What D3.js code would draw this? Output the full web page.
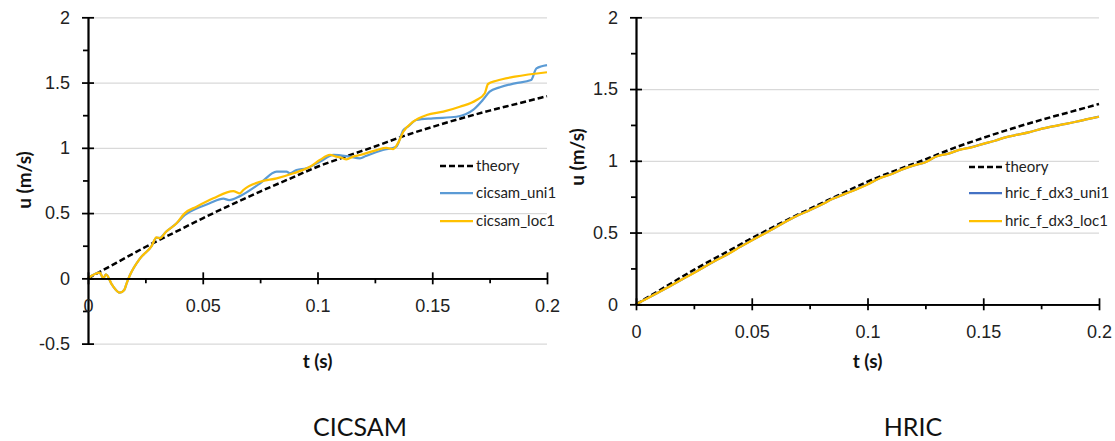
<!DOCTYPE html>
<html>
<head>
<meta charset="utf-8">
<script src="https://cdn.jsdelivr.net/npm/d3@7"></script>
<style>
  body { margin: 0; background: #fff; }
  svg { font-family: Lato, "Open Sans", sans-serif; }
</style>
</head>
<body>
<svg id="chart" width="1115" height="441"></svg>
<script>
// ---------- data ----------
const tTheory = [0, 0.0125, 0.025, 0.0375, 0.05, 0.0625, 0.075, 0.0875, 0.1, 0.1125, 0.125, 0.1375, 0.15, 0.1625, 0.175, 0.1875, 0.2];
const uTheory = [0, 0.12, 0.24, 0.35, 0.46, 0.565, 0.665, 0.76, 0.855, 0.935, 1.01, 1.09, 1.16, 1.225, 1.285, 1.34, 1.396];

const tCicUni = [0, 0.005, 0.0067, 0.0078, 0.0105, 0.0139, 0.0158, 0.0168, 0.0183, 0.0227, 0.0277, 0.0298, 0.0312, 0.034, 0.0385, 0.0421, 0.0473, 0.053, 0.059, 0.0615, 0.0662, 0.075, 0.0822, 0.0865, 0.088, 0.0909, 0.0952, 0.101, 0.107, 0.114, 0.1185, 0.121, 0.1285, 0.1343, 0.1374, 0.1394, 0.1431, 0.1503, 0.1605, 0.1678, 0.172, 0.175, 0.1795, 0.186, 0.1931, 0.1954, 0.2];
const uCicUni = [0, 0.043, 0, 0.03, -0.05, -0.11, -0.09, -0.04, 0.025, 0.153, 0.247, 0.31, 0.31, 0.357, 0.42, 0.485, 0.535, 0.575, 0.61, 0.6, 0.63, 0.728, 0.817, 0.817, 0.805, 0.83, 0.843, 0.893, 0.945, 0.932, 0.92, 0.937, 0.983, 1.008, 1.136, 1.162, 1.213, 1.226, 1.238, 1.29, 1.366, 1.43, 1.464, 1.494, 1.52, 1.609, 1.634];

const tCicLoc = [0, 0.0052, 0.0067, 0.0078, 0.0105, 0.0139, 0.0158, 0.0168, 0.0183, 0.0227, 0.0277, 0.0298, 0.0312, 0.034, 0.0385, 0.0421, 0.0473, 0.0546, 0.0633, 0.0662, 0.0677, 0.075, 0.0822, 0.0895, 0.0967, 0.101, 0.1054, 0.1083, 0.1104, 0.1126, 0.1155, 0.1185, 0.1257, 0.13, 0.133, 0.135, 0.1374, 0.1417, 0.1476, 0.1548, 0.162, 0.1693, 0.1729, 0.1743, 0.178, 0.186, 0.2];
const uCicLoc = [0, 0.043, 0, 0.03, -0.05, -0.11, -0.09, -0.04, 0.025, 0.153, 0.247, 0.314, 0.307, 0.357, 0.42, 0.498, 0.549, 0.613, 0.669, 0.651, 0.677, 0.74, 0.766, 0.805, 0.855, 0.906, 0.945, 0.932, 0.924, 0.912, 0.932, 0.945, 0.983, 1.0, 0.99, 1.034, 1.123, 1.2, 1.251, 1.277, 1.315, 1.366, 1.418, 1.489, 1.514, 1.545, 1.579];

const tHric = [0, 0.005, 0.01, 0.015, 0.02, 0.025, 0.03, 0.035, 0.04, 0.045, 0.05, 0.055, 0.06, 0.065, 0.07, 0.075, 0.08, 0.085, 0.09, 0.095, 0.1, 0.105, 0.11, 0.115, 0.12, 0.125, 0.13, 0.135, 0.14, 0.145, 0.15, 0.155, 0.16, 0.165, 0.17, 0.175, 0.18, 0.185, 0.19, 0.195, 0.2];
const uHricUni = [0, 0.043, 0.086, 0.13, 0.175, 0.219, 0.265, 0.31, 0.353, 0.4, 0.446, 0.489, 0.534, 0.578, 0.62, 0.656, 0.694, 0.735, 0.768, 0.801, 0.836, 0.877, 0.906, 0.94, 0.968, 0.991, 1.032, 1.05, 1.078, 1.095, 1.118, 1.14, 1.165, 1.182, 1.2, 1.222, 1.24, 1.256, 1.272, 1.29, 1.308];
const uHricLoc = [0, 0.042, 0.085, 0.13, 0.175, 0.218, 0.265, 0.31, 0.352, 0.4, 0.445, 0.488, 0.533, 0.578, 0.62, 0.655, 0.693, 0.735, 0.768, 0.8, 0.835, 0.877, 0.905, 0.94, 0.968, 0.99, 1.032, 1.05, 1.078, 1.094, 1.118, 1.14, 1.165, 1.182, 1.2, 1.222, 1.24, 1.256, 1.272, 1.29, 1.307];

const xTicks = [0, 0.05, 0.1, 0.15, 0.2];
const xMinor = [0.025, 0.075, 0.125, 0.175];

const panels = [
  {
    title: 'CICSAM', xRange: [88, 547], yDomain: [-0.5, 2], yRange: [343.6, 17.3],
    yTicks: [-0.5, 0, 0.5, 1, 1.5, 2], yMinor: [-0.25, 0.25, 0.75, 1.25, 1.75],
    yTitleX: 24, yTitleY: 180, xTitleY: 361, titleX: 360,
    legendX: 440, legendY: [166, 193, 221],
    series: [
      {name: 'theory', t: tTheory, u: uTheory, color: '#000', dash: '6,3', width: 2.5},
      {name: 'cicsam_uni1', t: tCicUni, u: uCicUni, color: '#5B9BD5', width: 2.25},
      {name: 'cicsam_loc1', t: tCicLoc, u: uCicLoc, color: '#FFC000', width: 2.25}
    ]
  },
  {
    title: 'HRIC', xRange: [636, 1099], yDomain: [0, 2], yRange: [304.3, 17.3],
    yTicks: [0, 0.5, 1, 1.5, 2], yMinor: [0.25, 0.75, 1.25, 1.75],
    yTitleX: 577, yTitleY: 157, xTitleY: 361, titleX: 913,
    legendX: 969, legendY: [167, 193, 221],
    series: [
      {name: 'theory', t: tTheory, u: uTheory, color: '#000', dash: '6,3', width: 2.5},
      {name: 'hric_f_dx3_uni1', t: tHric, u: uHricUni, color: '#4472C4', width: 2.25},
      {name: 'hric_f_dx3_loc1', t: tHric, u: uHricLoc, color: '#FFC000', width: 2.25}
    ]
  }
];

const svg = d3.select('#chart');

function translate(x, y) {
  return `translate(${x}, ${y})`;
}

// plain hyphen for negatives, like the original
const plain = d => String(d);

function drawPanel(p) {
  const g = svg.append('g');
  const x = d3.scaleLinear().domain([0, 0.2]).range(p.xRange);
  const y = d3.scaleLinear().domain(p.yDomain).range(p.yRange);
  const y0 = y(0);
  const x0 = p.xRange[0];
  const w = p.xRange[1] - p.xRange[0];

  // gridlines
  g.append('g')
    .attr('transform', translate(x0, 0))
    .call(d3.axisLeft(y).tickValues(p.yTicks.filter(v => v !== 0)).tickSize(-w).tickFormat(''))
    .call(s => s.select('.domain').remove())
    .call(s => s.selectAll('line').attr('stroke', '#d9d9d9').attr('stroke-width', 1.2));

  // series
  const line = d3.line().x(d => x(d[0])).y(d => y(d[1])).curve(d3.curveMonotoneX);
  p.series.forEach(s => {
    g.append('path')
      .datum(d3.zip(s.t, s.u))
      .attr('d', line)
      .attr('fill', 'none')
      .attr('stroke', s.color)
      .attr('stroke-width', s.width)
      .attr('stroke-dasharray', s.dash || null)
      .attr('stroke-linejoin', 'round');
  });

  // y axis
  const yAxis = g.append('g').attr('transform', translate(x0, 0));
  yAxis.call(d3.axisLeft(y).tickValues(p.yMinor).tickSize(5).tickFormat('').tickSizeOuter(0));
  yAxis.append('g')
    .call(d3.axisLeft(y).tickValues(p.yTicks).tickSize(6).tickPadding(12).tickSizeOuter(0).tickFormat(plain))
    .call(s => s.selectAll('.tick line').attr('x1', 6));
  yAxis.selectAll('.domain, line').attr('stroke', '#000').attr('stroke-width', 1.75);
  yAxis.selectAll('text').attr('font-size', 18).attr('fill', '#222');

  // x axis
  const xAxis = g.append('g').attr('transform', translate(0, y0));
  xAxis.call(d3.axisBottom(x).tickValues(xMinor).tickSize(5).tickFormat('').tickSizeOuter(0));
  xAxis.append('g')
    .call(d3.axisBottom(x).tickValues(xTicks).tickSize(6).tickPadding(15).tickSizeOuter(0).tickFormat(plain))
    .call(s => s.selectAll('.tick line').attr('y1', -6));
  xAxis.selectAll('.domain, line').attr('stroke', '#000').attr('stroke-width', 1.75);
  xAxis.selectAll('text').attr('font-size', 18).attr('fill', '#222');

  // axis titles
  g.append('text')
    .attr('transform', `${translate(p.yTitleX, p.yTitleY)} rotate(-90)`)
    .attr('text-anchor', 'middle').attr('dy', '0.35em')
    .attr('font-size', 19).attr('font-weight', 'bold').attr('fill', '#111')
    .text('u (m/s)');
  g.append('text')
    .attr('x', x(0.1)).attr('y', p.xTitleY).attr('dy', '0.35em')
    .attr('text-anchor', 'middle')
    .attr('font-size', 19).attr('font-weight', 'bold').attr('fill', '#111')
    .text('t (s)');

  // legend
  p.series.forEach((s, i) => {
    const ly = p.legendY[i];
    g.append('line')
      .attr('x1', p.legendX).attr('x2', p.legendX + 33)
      .attr('y1', ly).attr('y2', ly)
      .attr('stroke', s.color).attr('stroke-width', s.width)
      .attr('stroke-dasharray', s.dash || null);
    g.append('text')
      .attr('x', p.legendX + 36).attr('y', ly).attr('dy', '0.35em')
      .attr('font-size', 15).attr('fill', '#222')
      .text(s.name);
  });

  // panel title
  svg.append('text')
    .attr('x', p.titleX).attr('y', 427).attr('dy', '0.35em')
    .attr('text-anchor', 'middle')
    .attr('font-size', 25).attr('fill', '#111')
    .text(p.title);
}

panels.forEach(drawPanel);
</script>
</body>
</html>
